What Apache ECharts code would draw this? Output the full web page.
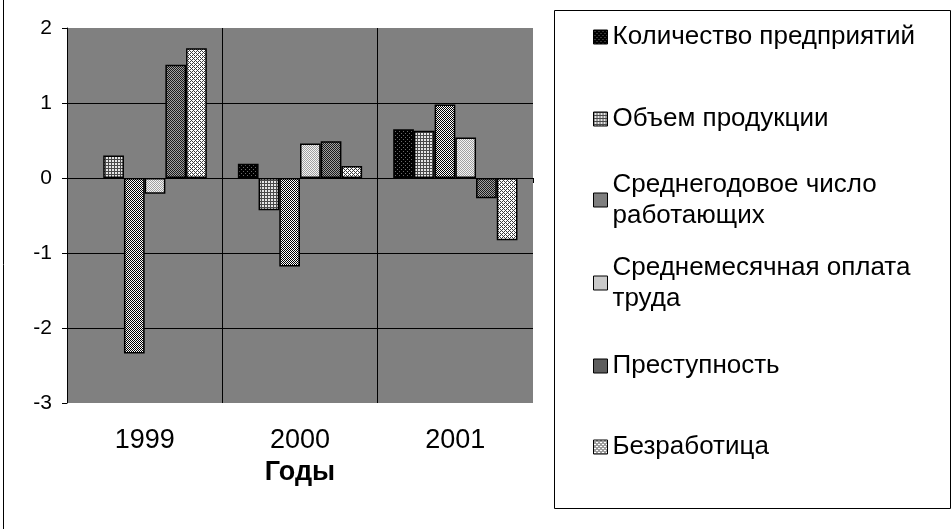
<!DOCTYPE html>
<html>
<head>
<meta charset="utf-8">
<script src="https://cdn.jsdelivr.net/npm/echarts@6/dist/echarts.min.js"></script>
<style>
  html, body { margin: 0; padding: 0; background: #fff; }
  #chart { width: 952px; height: 529px; }
</style>
</head>
<body>
<div id="chart"></div>
<script>
var years = ['1999', '2000', '2001'];
var names = [
    'Количество предприятий',
    'Объем продукции',
    'Среднегодовое число работающих',
    'Среднемесячная оплата труда',
    'Преступность',
    'Безработица'
];
var enterprises = [null, 0.19, 0.65];
var production = [0.30, -0.43, 0.63];
var workers = [-2.34, -1.18, 0.98];
var wages = [-0.21, 0.46, 0.54];
var crime = [1.51, 0.49, -0.27];
var unemployment = [1.73, 0.16, -0.83];
var yMin = -3, yMax = 2, yStep = 1;

// small pixel tiles, like the old excel fill patterns
function makePattern(size, bg, fg, test) {
    var c = document.createElement('canvas');
    c.width = size;
    c.height = size;
    var ctx = c.getContext('2d');
    ctx.fillStyle = bg;
    ctx.fillRect(0, 0, size, size);
    ctx.fillStyle = fg;
    for (var y = 0; y < size; y++) {
        for (var x = 0; x < size; x++) {
            if (test(x, y)) ctx.fillRect(x, y, 1, 1);
        }
    }
    return { image: c, repeat: 'repeat' };
}

var patterns = [
    makePattern(4, '#000', '#6a6a6a', function (x, y) { return x % 2 === 1 && y % 2 === 1 && (x + y) % 4 === 2; }),
    makePattern(3, '#e6e6e6', '#4a4a4a', function (x, y) { return x === 0 || y === 0; }),
    makePattern(2, '#fff', '#000', function (x, y) { return (x + y) % 2 === 0; }),
    makePattern(2, '#f4f4f4', '#a0a0a0', function (x, y) { return (x + y) % 2 === 0; }),
    makePattern(2, '#a0a0a0', '#1a1a1a', function (x, y) { return (x + y) % 2 === 0; }),
    makePattern(4, '#fff', '#3a3a3a', function (x, y) { return (x + y) % 4 === 3 || (x + y) % 4 === 1 && x % 2 === 0; })
];

var values = [enterprises, production, workers, wages, crime, unemployment];
var font = "'Liberation Sans', Arial, sans-serif";

var series = names.map(function (n, i) {
    return {
        name: n,
        type: 'bar',
        xAxisIndex: 0,
        barGap: '0%',
        barCategoryGap: '20%',
        itemStyle: { color: patterns[i], borderColor: '#000', borderWidth: 1.5 },
        data: values[i]
    };
});

// one legend per entry so the line positions match
var legendCenters = [37, 119, 200, 283, 366, 447];
var legendText = [
    'Количество предприятий',
    'Объем продукции',
    'Среднегодовое число\nработающих',
    'Среднемесячная оплата\nтруда',
    'Преступность',
    'Безработица'
];
var lineH = 31;
var legends = names.map(function (n, i) {
    var twoLines = legendText[i].indexOf('\n') >= 0;
    return {
        left: 593,
        top: legendCenters[i] - (twoLines ? lineH * 1.5 : lineH / 2),
        padding: 0,
        orient: 'vertical',
        itemWidth: 14,
        itemHeight: 14,
        selectedMode: false,
        icon: 'rect',
        itemStyle: { borderColor: '#000', borderWidth: 1 },
        data: [n],
        formatter: function () { return legendText[i]; },
        textStyle: {
            fontFamily: font,
            fontSize: 26,
            color: '#000',
            lineHeight: lineH,
            padding: twoLines ? [lineH, 0, 0, 0] : 0
        }
    };
});

var chart = echarts.init(document.getElementById('chart'));
chart.setOption({
    backgroundColor: '#fff',
    animation: false,
    graphic: [
        { type: 'rect', shape: { x: 554.5, y: 10.5, width: 396, height: 498 }, style: { fill: 'none', stroke: '#000', lineWidth: 1 } },
        { type: 'line', shape: { x1: 3.5, y1: 0, x2: 3.5, y2: 529 }, style: { stroke: '#000', lineWidth: 1 } }
    ],
    legend: legends,
    grid: {
        left: 67, right: 419, top: 28, bottom: 126,
        show: true, backgroundColor: '#808080', borderWidth: 0
    },
    xAxis: [{
        type: 'category',
        position: 'bottom',
        data: years,
        axisLine: { onZero: true, lineStyle: { color: '#000', width: 1 } },
        axisTick: { show: true, length: 5, lineStyle: { color: '#000' } },
        axisLabel: { show: false },
        splitLine: { show: true, lineStyle: { color: ['#000', '#000', '#000', 'transparent'], width: 1 } }
    }, {
        type: 'category',
        position: 'bottom',
        data: years,
        axisLine: { show: false, onZero: false },
        axisTick: { show: false },
        axisLabel: { fontFamily: font, fontSize: 27, color: '#000', margin: 24 },
        splitLine: { show: false },
        name: 'Годы',
        nameLocation: 'middle',
        nameGap: 47,
        nameTextStyle: { fontFamily: font, fontSize: 27, fontWeight: 'bold', color: '#000' }
    }],
    yAxis: {
        type: 'value',
        min: yMin,
        max: yMax,
        interval: yStep,
        axisLine: { show: true, lineStyle: { color: '#000', width: 1 } },
        axisTick: { show: true, length: 5, lineStyle: { color: '#000' } },
        axisLabel: { fontFamily: font, fontSize: 21, color: '#000', margin: 15 },
        splitLine: { show: true, lineStyle: { color: ['transparent', '#000', '#000', '#000', '#000', 'transparent'], width: 1 } }
    },
    series: series
});
</script>
</body>
</html>
